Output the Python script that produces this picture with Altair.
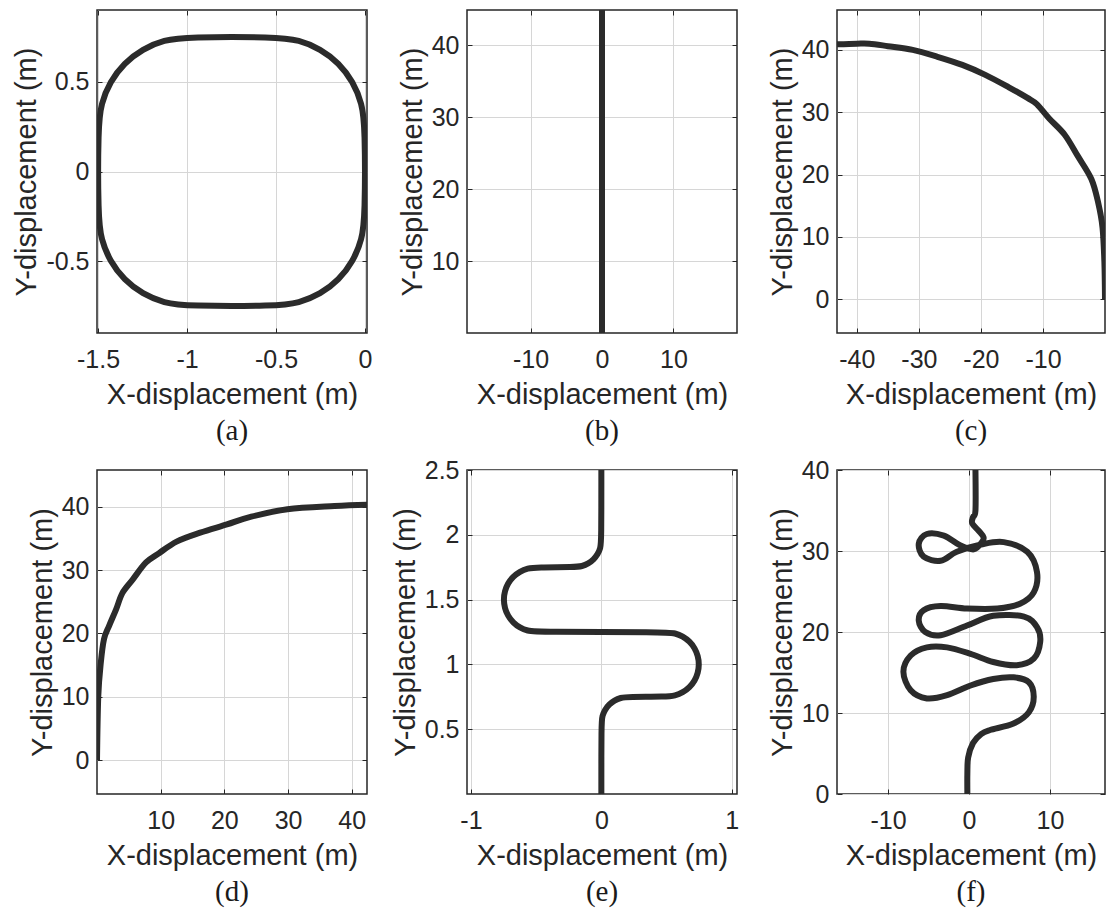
import altair as alt
import pandas as pd

# ---------------- data ----------------
# (a) rounded square path (closed)
a_x = [-1.0, -1.129, -1.25, -1.354, -1.433, -1.483, -1.5,
       -1.5, -1.483, -1.433, -1.354, -1.25, -1.129, -1.0,
       -0.5, -0.371, -0.25, -0.146, -0.067, -0.017, 0.0,
       0.0, -0.017, -0.067, -0.146, -0.25, -0.371, -0.5]
a_y = [0.75, 0.733, 0.683, 0.604, 0.5, 0.379, 0.25,
       -0.25, -0.379, -0.5, -0.604, -0.683, -0.733, -0.75,
       -0.75, -0.733, -0.683, -0.604, -0.5, -0.379, -0.25,
       0.25, 0.379, 0.5, 0.604, 0.683, 0.733, 0.75]

# (b) straight line
b_x = [0.0, 0.0]
b_y = [0.0, 46.0]

# (c) left turn
c_x = [-43.2, -40.0, -38.0, -35.0, -31.0, -27.0, -23.0, -19.3, -15.5, -12.5, -11.0,
       -9.0, -6.5, -4.4, -2.2, -1.1, -0.4, -0.1, 0.0]
c_y = [40.9, 41.0, 41.0, 40.6, 40.0, 38.9, 37.6, 36.0, 34.0, 32.3, 31.3,
       29.0, 26.4, 23.0, 19.3, 15.5, 11.5, 6.0, 0.0]

# (d) right turn
d_x = [0.0, 0.2, 0.6, 1.1, 1.9, 3.0, 4.0, 5.6, 7.7, 9.8, 12.5, 16.2, 20.4, 24.1,
       29.9, 37.3, 42.5]
d_y = [0.0, 10.1, 15.4, 19.1, 21.2, 23.8, 26.4, 28.5, 31.2, 32.7, 34.5, 35.9, 37.2,
       38.4, 39.6, 40.1, 40.3]

# (e) S-shaped path
e_x = [0.0, 0.0, 0.007, 0.027, 0.059, 0.1, 0.148, 0.2,
       0.5, 0.565, 0.625, 0.677, 0.717, 0.741, 0.75, 0.741, 0.717, 0.677, 0.625, 0.565, 0.5,
       -0.5, -0.565, -0.625, -0.677, -0.717, -0.741, -0.75, -0.741, -0.717, -0.677, -0.625,
       -0.565, -0.5,
       -0.2, -0.148, -0.1, -0.059, -0.027, -0.007, 0.0, 0.0]
e_y = [0.0, 0.55, 0.602, 0.65, 0.691, 0.723, 0.743, 0.75,
       0.75, 0.759, 0.783, 0.823, 0.875, 0.935, 1.0, 1.065, 1.125, 1.177, 1.217, 1.241, 1.25,
       1.25, 1.259, 1.283, 1.323, 1.375, 1.435, 1.5, 1.565, 1.625, 1.677, 1.717,
       1.741, 1.75,
       1.75, 1.757, 1.777, 1.809, 1.85, 1.898, 1.95, 2.5]

# (f) meandering path
f_x = [-0.2, -0.2, -0.1, 0.5, 1.5, 2.6, 5.5, 7.4, 8.0, 7.4, 5.5, 3.0, 0.2, -2.7,
       -5.2, -7.2, -8.1, -7.2, -5.2, -2.7, 0.2, 3.0, 5.9, 8.0, 8.8, 8.4, 6.8, 3.0,
       -0.25, -3.5, -5.4, -6.2, -5.6, -3.5, -0.25, 3.5, 6.3, 8.0, 8.4, 7.2, 4.3,
       1.5, -1.5, -3.5, -5.6, -6.2, -5.2, -3.1, -1.1, 0.6, 1.6, 1.8, 1.2, 0.4, 0.5,
       0.8, 0.8]
f_y = [0.0, 2.5, 4.5, 6.3, 7.4, 7.9, 8.7, 10.1, 12.0, 13.8, 14.4, 14.2, 13.4, 12.2,
       11.8, 12.8, 15.1, 17.1, 18.1, 18.1, 17.3, 16.3, 15.9, 16.7, 18.8, 20.6, 21.9,
       22.0, 20.8, 19.6, 20.0, 21.4, 22.7, 23.2, 22.9, 22.9, 23.5, 24.9, 27.4, 29.9,
       31.1, 30.8, 29.9, 28.8, 29.3, 30.9, 32.1, 31.9, 30.7, 30.2, 31.1, 31.7, 32.5,
       33.4, 34.2, 35.0, 40.0]

XT = "X-displacement (m)"
YT = "Y-displacement (m)"
LINE = "#2b2b2b"
TICK = 5


def panel(xs, ys, xdom, ydom, xticks, yticks, w, h, cap, interp="cardinal"):
    df = pd.DataFrame({"x": xs, "y": ys, "i": list(range(len(xs)))})
    xs_ = alt.Scale(domain=xdom, nice=False, zero=False)
    ys_ = alt.Scale(domain=ydom, nice=False, zero=False)
    main = alt.Chart(df).mark_line(
        interpolate=interp, strokeWidth=6, color=LINE, clip=True, strokeJoin="round"
    ).encode(
        x=alt.X("x:Q", scale=xs_,
                axis=alt.Axis(values=xticks, title=XT, labelExpr="datum.value + ''",
                              offset=-TICK)),
        y=alt.Y("y:Q", scale=ys_,
                axis=alt.Axis(values=yticks, title=YT, labelExpr="datum.value + ''",
                              offset=-TICK)),
        order="i:Q",
    )
    # invisible copy that only carries the inward ticks of the top and right frame
    ghost = alt.Chart(df).mark_line(strokeOpacity=0, clip=True).encode(
        x=alt.X("x:Q", scale=xs_,
                axis=alt.Axis(values=xticks, title=None, labels=False, grid=False,
                              orient="top", offset=-TICK)),
        y=alt.Y("y:Q", scale=ys_,
                axis=alt.Axis(values=yticks, title=None, labels=False, grid=False,
                              orient="right", offset=-TICK)),
        order="i:Q",
    )
    return alt.layer(main, ghost).resolve_axis(x="independent", y="independent").properties(
        width=w,
        height=h,
        title=alt.TitleParams(
            text=cap,
            orient="bottom",
            anchor="middle",
            frame="group",
            font="Liberation Serif",
            fontSize=29,
            fontWeight="normal",
            color="#1a1a1a",
            offset=8,
        ),
    )


pa = panel(a_x, a_y, [-1.506, 0.011], [-0.9, 0.9], [-1.5, -1, -0.5, 0], [-0.5, 0, 0.5],
           270, 323, "(a)", "basis-closed")
pb = panel(b_x, b_y, [-18.9, 18.9], [0, 44.9], [-10, 0, 10], [10, 20, 30, 40],
           270, 323, "(b)", "linear")
pc = panel(c_x, c_y, [-43.2, 0], [-5.4, 46.4], [-40, -30, -20, -10], [0, 10, 20, 30, 40],
           268, 323, "(c)")
pd_ = panel(d_x, d_y, [0, 42.4], [-5.35, 45.8], [10, 20, 30, 40], [0, 10, 20, 30, 40],
            270, 324, "(d)")
pe = panel(e_x, e_y, [-1.03, 1.04], [0, 2.5], [-1, 0, 1], [0.5, 1, 1.5, 2, 2.5],
           270, 324, "(e)", "basis")
pf = panel(f_x, f_y, [-16.3, 16.8], [0, 40], [-10, 0, 10], [0, 10, 20, 30, 40],
           268, 324, "(f)")

chart = (
    alt.concat(pa, pb, pc, pd_, pe, pf, columns=3,
               spacing={"row": 137, "column": 100}, bounds="flush")
    .properties(padding={"left": 12, "top": 8, "right": 0, "bottom": 0},
                background="white")
    .configure_view(stroke="#262626", strokeWidth=1.5)
    .configure_axis(
        labelFont="Liberation Sans",
        labelFontSize=25,
        labelColor="#262626",
        titleFont="Liberation Sans",
        titleFontSize=29,
        titleFontWeight="normal",
        titleColor="#262626",
        grid=True,
        gridColor="#d6d6d6",
        gridWidth=1,
        domain=False,
        ticks=True,
        tickSize=TICK,
        tickColor="#262626",
        tickWidth=1,
        labelFlush=False,
        labelOverlap=False,
    )
    .configure_axisX(labelPadding=14, titlePadding=8)
    .configure_axisY(labelPadding=8, titlePadding=4)
)

chart.save("out.html", embed_options={"renderer": "svg", "actions": False})
